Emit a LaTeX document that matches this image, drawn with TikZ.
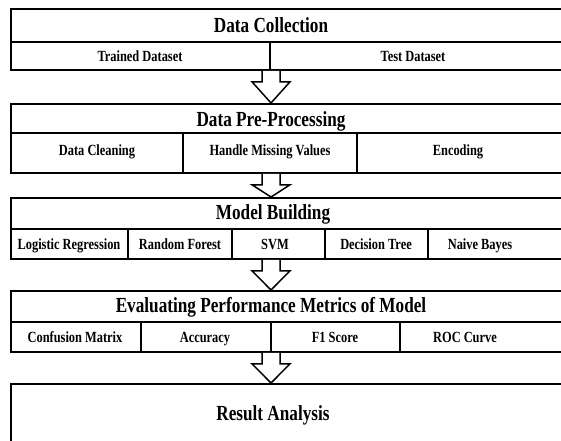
\documentclass[tikz,border=0pt]{standalone}
\usepackage{fontspec}
\setmainfont{Liberation Serif}[FakeStretch=0.8]
\usetikzlibrary{calc}

\tikzstyle{block-box}=[draw, line width=1.8pt, inner sep=0pt, minimum width=590, anchor=north west]
\tikzstyle{block-rule}=[line width=1.8pt]
\tikzstyle{block-title}=[anchor=base, inner sep=0pt, font=\fontsize{21.5}{24}\selectfont\bfseries]
\tikzstyle{block-item}=[anchor=base, inner sep=0pt, font=\fontsize{15.5}{18}\selectfont\bfseries]
\tikzstyle{flow-arrow}=[draw, line width=1.5pt, fill=white, line join=miter]

\newcommand{\flowarrow}[2]{%
  \path (#1) coordinate (fa) (#2) coordinate (fb);
  \draw[flow-arrow] ($(fa)+(-9,0)$) -- ($(fa)+(-9,-11)$) -- ($(fa)+(-19,-11)$) -- (fb)
    -- ($(fa)+(19,-11)$) -- ($(fa)+(9,-11)$) -- ($(fa)+(9,0)$);}

\begin{document}
\begin{tikzpicture}[x=1pt, y=1pt]
  \useasboundingbox (0,0) rectangle (561,440);
  \clip (0,0) rectangle (561,440);
  \coordinate (axis) at (271,0);

  \node (collect) at (10,432) [block-box, minimum height=61] {};
  \draw[block-rule] (10,398) -- (600,398);
  \draw[block-rule] (270,371) -- (270,398);
  \node (collect-title) at (271,407.7) [block-title] {Data Collection};
  \node (trained) at (140,378.7) [block-item] {Trained Dataset};
  \node (test) at (413,378.7) [block-item] {Test Dataset};

  \node (preproc) at (10,337) [block-box, minimum height=69] {};
  \draw[block-rule] (10,306.7) -- (600,306.7);
  \draw[block-rule] (183,268) -- (183,306.7);
  \draw[block-rule] (357,268) -- (357,306.7);
  \node (preproc-title) at (271,313.3) [block-title] {Data Pre-Processing};
  \node (cleaning) at (97,285) [block-item] {Data Cleaning};
  \node (missing) at (270,285) [block-item] {Handle Missing Values};
  \node (encoding) at (458,285) [block-item] {Encoding};

  \node (building) at (10,243) [block-box, minimum height=61] {};
  \draw[block-rule] (10,211) -- (600,211);
  \foreach \x in {128,232,325,428}
    \draw[block-rule] (\x,182) -- (\x,211);
  \node (building-title) at (273,220.7) [block-title] {Model Building};
  \node (logistic) at (69,190.7) [block-item] {Logistic Regression};
  \node (forest) at (180,190.7) [block-item] {Random Forest};
  \node (svm) at (275,190.7) [block-item] {SVM};
  \node (tree) at (376,190.7) [block-item] {Decision Tree};
  \node (bayes) at (480,190.7) [block-item] {Naive Bayes};

  \node (metrics) at (10,150) [block-box, minimum height=61] {};
  \draw[block-rule] (10,118) -- (600,118);
  \foreach \x in {141,271,400}
    \draw[block-rule] (\x,89) -- (\x,118);
  \node (metrics-title) at (271,127.7) [block-title] {Evaluating Performance Metrics of Model};
  \node (confusion) at (75,97.7) [block-item] {Confusion Matrix};
  \node (accuracy) at (205,97.7) [block-item] {Accuracy};
  \node (fscore) at (335,97.7) [block-item] {F1 Score};
  \node (roc) at (465,97.7) [block-item] {ROC Curve};

  \node (result) at (10,57) [block-box, minimum height=80] {};
  \node (result-title) at (273,19.3) [block-title] {Result Analysis};

  \flowarrow{collect.south -| axis}{preproc.north -| axis}
  \flowarrow{preproc.south -| axis}{building.north -| axis}
  \flowarrow{building.south -| axis}{metrics.north -| axis}
  \flowarrow{metrics.south -| axis}{result.north -| axis}
\end{tikzpicture}
\end{document}
